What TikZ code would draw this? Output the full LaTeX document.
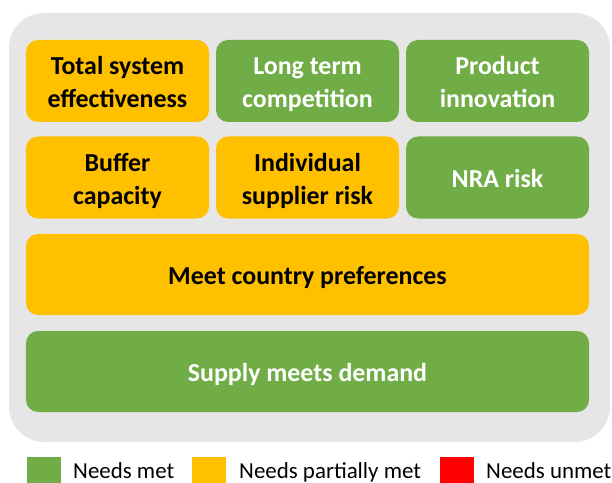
\documentclass[tikz,border=0pt]{standalone}
\usepackage{fontspec}
\setmainfont{Carlito}
\definecolor{metgreen}{HTML}{70AD47}
\definecolor{partyellow}{HTML}{FFC000}
\definecolor{unmetred}{HTML}{FF0000}
\definecolor{panelgrey}{HTML}{E6E6E6}
% fixed line box so that every tile line sits on the same baseline grid
\newcommand\linestrut{\rule[-5.6bp]{0pt}{32bp}}
\begin{document}
\begin{tikzpicture}[x=1bp,y=-1bp,
  tile/.style={rounded corners=12bp, inner sep=0pt, align=center,
    font=\fontsize{26}{32}\selectfont\bfseries},
  greentile/.style={tile, fill=metgreen, text=white},
  yellowtile/.style={tile, fill=partyellow, text=black},
  small/.style={minimum width=183bp, minimum height=82bp},
  wide/.style={minimum width=563bp, minimum height=81bp},
  swatch/.style={minimum width=34bp, minimum height=28bp, inner sep=0pt, anchor=north west},
  legendtext/.style={anchor=base west, inner sep=0pt, font=\fontsize{23}{28}\selectfont}
]
\useasboundingbox (0,0) rectangle (612,483);

% background panel
\fill[panelgrey, rounded corners=35bp] (9,13) rectangle (610,442);

% first row
\node[yellowtile, small] (tse) at (117.5,81) {\linestrut Total system\\\linestrut effectiveness};
\node[greentile, small] (ltc) at (307.5,81) {\linestrut Long term\\\linestrut competition};
\node[greentile, small] (pin) at (497.5,81) {\linestrut Product\\\linestrut innovation};

% second row
\node[yellowtile, small] (buf) at (117.5,177.5) {\linestrut Buffer\\\linestrut capacity};
\node[yellowtile, small] (isr) at (307.5,177.5) {\linestrut Individual\\\linestrut supplier risk};
\node[greentile, small] (nra) at (497.5,177.5) {\linestrut NRA risk};

% full-width rows
\node[yellowtile, wide] (mcp) at (307.5,274.5) {\linestrut Meet country preferences};
\node[greentile, wide] (smd) at (307.5,371.5) {\linestrut Supply meets demand};

% legend
\node[swatch, fill=metgreen] (lg1) at (27,457) {};
\node[legendtext] (lt1) at (73,478.5) {Needs met};
\node[swatch, fill=partyellow] (lg2) at (192,457) {};
\node[legendtext] (lt2) at (239,478.5) {Needs partially met};
\node[swatch, fill=unmetred] (lg3) at (440,457) {};
\node[legendtext] (lt3) at (486,478.5) {Needs unmet};
\end{tikzpicture}
\end{document}
